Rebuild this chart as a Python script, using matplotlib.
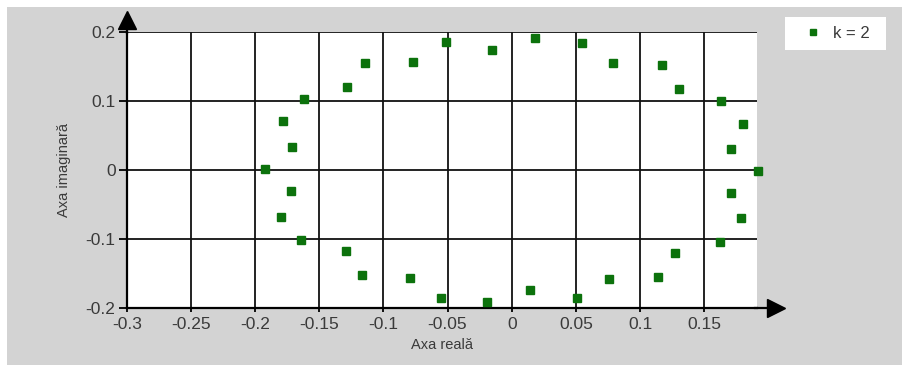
import matplotlib
matplotlib.use("Agg")
import matplotlib.pyplot as plt
from matplotlib.patches import Rectangle
from matplotlib.transforms import offset_copy

plt.rcParams['font.family'] = ['Liberation Sans', 'DejaVu Sans']

# Poles of the system for k = 2 (real and imaginary parts)
real_part = [-0.192, -0.171, -0.178, -0.162, -0.128, -0.114, -0.077, -0.051, -0.015,
             0.018, 0.055, 0.079, 0.117, 0.130, 0.163, 0.180, 0.171, 0.192,
             -0.172, -0.180, -0.164, -0.129, -0.117, -0.079, -0.055, -0.019,
             0.014, 0.051, 0.076, 0.114, 0.127, 0.162, 0.179, 0.171]
imag_part = [0.001, 0.033, 0.071, 0.103, 0.120, 0.155, 0.157, 0.186, 0.174,
             0.192, 0.184, 0.156, 0.153, 0.117, 0.100, 0.067, 0.030, -0.001,
             -0.031, -0.068, -0.102, -0.118, -0.153, -0.157, -0.186, -0.191,
             -0.175, -0.186, -0.159, -0.155, -0.120, -0.104, -0.070, -0.033]
series_label = "k = 2"

x_ticks = [-0.3, -0.25, -0.2, -0.15, -0.1, -0.05, 0, 0.05, 0.1, 0.15]
x_tick_labels = ["-0.3", "-0.25", "-0.2", "-0.15", "-0.1", "-0.05", "0", "0.05", "0.1", "0.15"]
y_ticks = [-0.2, -0.1, 0, 0.1, 0.2]
y_tick_labels = ["-0.2", "-0.1", "0", "0.1", "0.2"]
x_title = "Axa reală"
y_title = "Axa imaginară"

W, H = 902, 365
fig = plt.figure(figsize=(W / 100, H / 100), dpi=100, facecolor='white')

# light grey panel behind the chart
fig.patches.append(Rectangle((7 / W, 0), 1 - 7 / W, 1 - 7 / H, transform=fig.transFigure,
                             facecolor='#d3d3d3', edgecolor='none', zorder=-2))
# legend background
fig.patches.append(Rectangle((785 / W, 1 - 50 / H), 101 / W, 33 / H, transform=fig.transFigure,
                             facecolor='white', edgecolor='none', zorder=-1))

left, right, top, bottom = 126.7, 757.5, 32.3, 307.7
ax = fig.add_axes([left / W, 1 - bottom / H, (right - left) / W, (bottom - top) / H])
ax.set_facecolor('white')

green = '#0c720c'
text_col = '#3a3a3a'

ax.plot(real_part, imag_part, linestyle='none', marker='s', ms=5.2,
        color=green, mec=green, label=series_label, zorder=3, clip_on=False)

ax.set_xlim(-0.3, 0.1915)
ax.set_ylim(-0.2, 0.2)
ax.set_xticks(x_ticks)
ax.set_xticklabels(x_tick_labels)
ax.set_yticks(y_ticks)
ax.set_yticklabels(y_tick_labels)

ax.grid(True, color='#111111', linewidth=1.3, zorder=1)
ax.set_axisbelow(True)

for side in ('top', 'right'):
    ax.spines[side].set_visible(False)
for side in ('left', 'bottom'):
    ax.spines[side].set_color('black')
    ax.spines[side].set_linewidth(1.6)

ax.tick_params(axis='y', direction='out', length=6, width=1.3, pad=2,
               labelsize=12.5, colors='black')
ax.tick_params(axis='x', direction='out', length=3, width=1.3, pad=4,
               labelsize=12.5, colors='black')
for lbl in ax.get_xticklabels() + ax.get_yticklabels():
    lbl.set_color(text_col)

ax.set_xlabel(x_title, fontsize=10.5, color=text_col)
ax.set_ylabel(y_title, fontsize=10.5, color=text_col)
ax.xaxis.set_label_coords(0.5, -0.11)
ax.yaxis.set_label_coords(-0.088, 0.5)

# axis arrows
ext = offset_copy(ax.transAxes, fig=fig, x=10, y=0, units='dots')
ax.plot([0.98, 1], [0, 0], transform=ext, color='black', lw=1.6, clip_on=False)
ax.plot([1], [0], transform=offset_copy(ax.transAxes, fig=fig, x=18.5, y=0, units='dots'),
        marker='>', ms=12.5, color='black', mec='black', clip_on=False)
ax.plot([0], [1], transform=offset_copy(ax.transAxes, fig=fig, x=0, y=12, units='dots'),
        marker='^', ms=12.5, color='black', mec='black', clip_on=False)
ax.plot([0, 0], [0.98, 1], transform=offset_copy(ax.transAxes, fig=fig, x=0, y=5, units='dots'),
        color='black', lw=1.6, clip_on=False)

leg = ax.legend(loc='center left', bbox_to_anchor=(803 / W, 1 - 33.5 / H),
                bbox_transform=fig.transFigure, frameon=False, fontsize=12,
                markerscale=0.7, handlelength=1.2, handletextpad=0.6, borderpad=0,
                borderaxespad=0)
for t in leg.get_texts():
    t.set_color(text_col)

fig.savefig('out.png', dpi=100, facecolor='white')
